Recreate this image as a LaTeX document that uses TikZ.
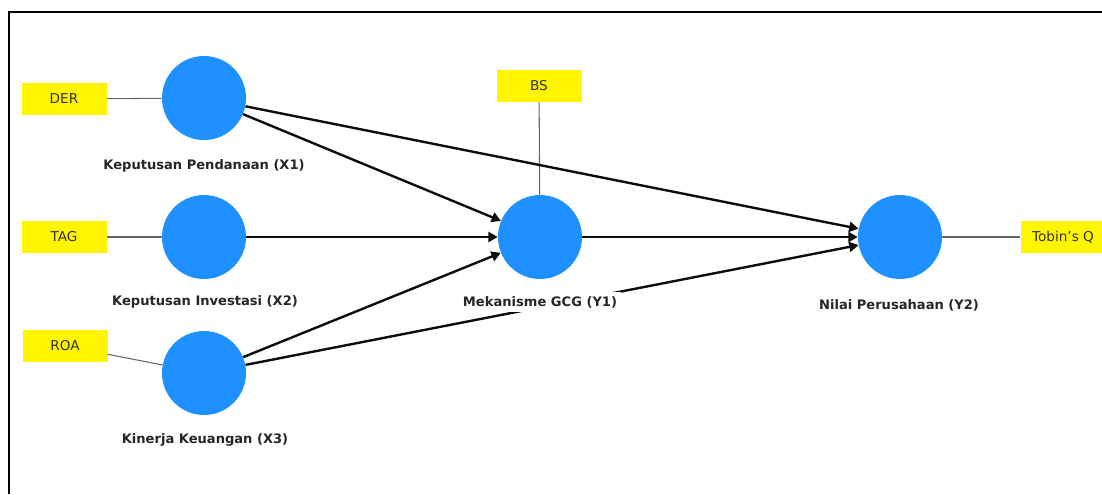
\documentclass[tikz,border=0pt]{standalone}
\usepackage{fontspec}
\setmainfont{DejaVu Sans}
\usetikzlibrary{arrows.meta}
\definecolor{latent}{RGB}{30,144,255}
\definecolor{indic}{RGB}{255,245,0}
\begin{document}
\begin{tikzpicture}[x=0.75pt,y=-0.75pt,
  latentvar/.style={circle,fill=latent,minimum size=63pt,inner sep=0pt},
  indicator/.style={rectangle,fill=indic,minimum width=63.75pt,minimum height=24pt,
    inner sep=0pt,font=\fontsize{10.2}{12}\selectfont,text=black!80},
  varlabel/.style={font=\bfseries\fontsize{9.8}{12}\selectfont,text=black!85,
    fill=white,inner xsep=3pt,inner ysep=3.2pt},
  pathline/.style={line width=1.8pt,black!95,-{Triangle[length=7pt,width=7.5pt]}},
  loading/.style={line width=0.8pt,black!60}]
\useasboundingbox (0,0) rectangle (1102,494);

% frame
\draw[line width=1.6pt] (9,494) -- (9,12) -- (1102,12);

% latent variables
\node[latentvar] (x1) at (204,98)  {};
\node[latentvar] (x2) at (204,237) {};
\node[latentvar] (x3) at (204,373) {};
\node[latentvar] (y1) at (540,237) {};
\node[latentvar] (y2) at (900,237) {};

% indicators
\node[indicator] (der) at (64,99)   {DER};
\node[indicator] (tag) at (64,237)  {TAG};
\node[indicator] (roa) at (65,346)  {ROA};
\node[indicator] (bs)  at (539,86)  {BS};
\node[indicator] (tq)  at (1063,237) {Tobin\symbol{39}s Q};

% outer loadings
\draw[loading] (der) -- (x1);
\draw[loading] (tag) -- (x2);
\draw[loading] (roa) -- (x3);
\draw[loading] (bs) -- (y1);
\draw[loading] (y2) -- (tq);

% structural paths
\draw[pathline] (x1) -- (y1);
\draw[pathline] (x1) -- (y2);
\draw[pathline] (x2) -- (y1);
\draw[pathline] (x3) -- (y1);
\draw[pathline] (x3) -- (y2);
\draw[pathline] (y1) -- (y2);

% variable names
\node[varlabel] (lx1) at (204,166) {Keputusan Pendanaan (X1)};
\node[varlabel] (lx2) at (205,302) {Keputusan Investasi (X2)};
\node[varlabel] (lx3) at (205,440) {Kinerja Keuangan (X3)};
\node[varlabel] (ly1) at (540,302) {Mekanisme GCG (Y1)};
\node[varlabel] (ly2) at (899,305) {Nilai Perusahaan (Y2)};
\end{tikzpicture}
\end{document}
